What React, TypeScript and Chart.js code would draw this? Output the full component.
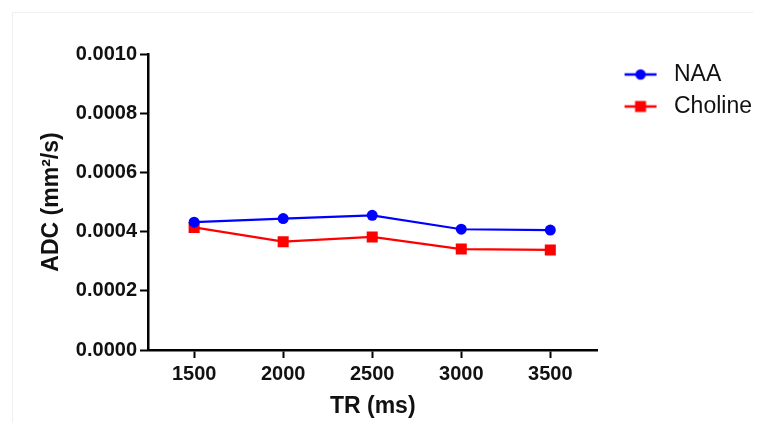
import { useEffect, useRef } from "react";
import { Chart, registerables } from "chart.js";

Chart.register(...registerables);

const trValues = [1500, 2000, 2500, 3000, 3500];
const naaValues = [0.000432, 0.000444, 0.000455, 0.000408, 0.000405];
const cholineValues = [0.000414, 0.000366, 0.000382, 0.000341, 0.000338];
const yTickValues = [0, 0.0002, 0.0004, 0.0006, 0.0008, 0.001];
const seriesNames = ["NAA", "Choline"];
const seriesColors = ["#0000ff", "#ff0000"];
const xTitle = "TR (ms)";
const yTitle = "ADC (mm²/s)";

const FONT = "'Liberation Sans', Arial, sans-serif";

function legendIcon(color: string, shape: "circle" | "rect") {
  const c = document.createElement("canvas");
  c.width = 58;
  c.height = 20;
  const ctx = c.getContext("2d")!;
  const cx = 35;
  ctx.strokeStyle = color;
  ctx.lineWidth = 2.5;
  ctx.beginPath();
  ctx.moveTo(cx - 16, 10);
  ctx.lineTo(cx + 16, 10);
  ctx.stroke();
  ctx.fillStyle = color;
  if (shape === "circle") {
    ctx.beginPath();
    ctx.arc(cx, 10, 5.2, 0, Math.PI * 2);
    ctx.fill();
  } else {
    ctx.fillRect(cx - 5.5, 4.5, 11, 11);
  }
  return c;
}

export default function App() {
  const ref = useRef<HTMLCanvasElement | null>(null);

  useEffect(() => {
    if (!ref.current) return;
    const icons = [legendIcon(seriesColors[0], "circle"), legendIcon(seriesColors[1], "rect")];
    const chart = new Chart(ref.current, {
      type: "line",
      data: {
        datasets: [
          {
            label: seriesNames[0],
            data: trValues.map((x, i) => ({ x, y: naaValues[i] })),
            borderColor: seriesColors[0],
            backgroundColor: seriesColors[0],
            borderWidth: 2.2,
            pointStyle: "circle",
            pointRadius: 5.5,
            pointBorderWidth: 0,
            tension: 0,
          },
          {
            label: seriesNames[1],
            data: trValues.map((x, i) => ({ x, y: cholineValues[i] })),
            borderColor: seriesColors[1],
            backgroundColor: seriesColors[1],
            borderWidth: 2.2,
            pointStyle: "rect",
            pointRadius: 7.8,
            pointBorderWidth: 0,
            tension: 0,
          },
        ],
      },
      options: {
        animation: false,
        responsive: true,
        maintainAspectRatio: false,
        layout: { padding: { top: 54, left: 0, right: -1, bottom: 0 } },
        plugins: {
          tooltip: { enabled: false },
          legend: {
            position: "right",
            align: "start",
            labels: {
              usePointStyle: true,
              pointStyleWidth: 56,
              padding: 9,
              color: "#111",
              font: { family: FONT, size: 23 },
              generateLabels: (ch: any) =>
                ch.data.datasets.map((ds: any, i: number) => ({
                  text: ds.label,
                  pointStyle: icons[i],
                  fillStyle: seriesColors[i],
                  strokeStyle: seriesColors[i],
                  lineWidth: 0,
                  hidden: false,
                  datasetIndex: i,
                  fontColor: "#111",
                })),
            },
          },
        },
        scales: {
          x: {
            type: "linear",
            min: 1241,
            max: 3765,
            afterBuildTicks: (s: any) => {
              s.ticks = trValues.map((v) => ({ value: v }));
            },
            afterFit: (s: any) => {
              s.height = 81;
            },
            border: { display: true, color: "#000", width: 2.5 },
            grid: {
              drawOnChartArea: false,
              drawTicks: true,
              tickLength: 8,
              tickWidth: 2,
              tickColor: "#000",
            },
            ticks: {
              color: "#111",
              padding: 4,
              maxRotation: 0,
              font: { family: FONT, size: 20, weight: "bold" },
              callback: (v: any) => String(v),
            },
            title: {
              display: true,
              text: xTitle,
              color: "#111",
              font: { family: FONT, size: 23, weight: "bold" },
              padding: { top: 0, bottom: 11 },
            },
          },
          y: {
            type: "linear",
            min: 0,
            max: 0.001,
            afterBuildTicks: (s: any) => {
              s.ticks = yTickValues.map((v) => ({ value: v }));
            },
            afterFit: (s: any) => {
              s.width = 148;
            },
            border: { display: true, color: "#000", width: 2.5 },
            grid: {
              drawOnChartArea: false,
              drawTicks: true,
              tickLength: 8,
              tickWidth: 2,
              tickColor: "#000",
            },
            ticks: {
              color: "#111",
              padding: 3,
              font: { family: FONT, size: 20, weight: "bold" },
              callback: (v: any) => Number(v).toFixed(4),
            },
            title: {
              display: true,
              text: yTitle,
              color: "#111",
              font: { family: FONT, size: 23, weight: "bold" },
              padding: { top: 38, bottom: 0 },
            },
          },
        },
      },
    });
    return () => chart.destroy();
  }, []);

  return (
    <div style={{ position: "absolute", left: 0, top: 0, width: 761, height: 431, background: "#fff" }}>
      <div
        style={{
          position: "absolute",
          left: 12,
          top: 12,
          width: 740,
          height: 410,
          borderTop: "1px solid #f0f0f0",
          borderLeft: "1px solid #f0f0f0",
        }}
      />
      <canvas ref={ref} style={{ position: "absolute", left: 0, top: 0, width: 761, height: 431 }} />
    </div>
  );
}
